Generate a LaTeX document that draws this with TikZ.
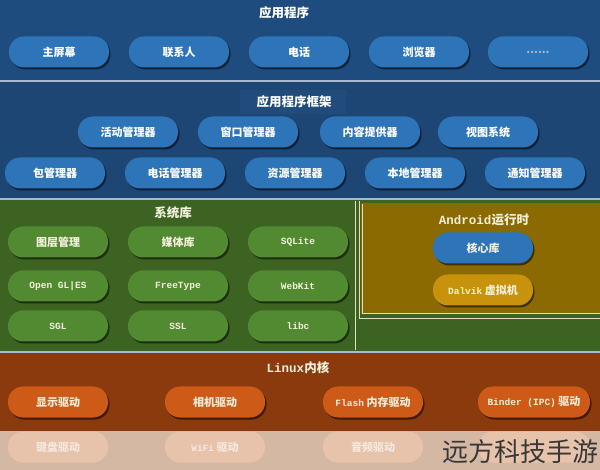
\documentclass[tikz,border=0pt]{standalone}
\usepackage{fontspec}
\setmainfont{Liberation Serif}
\newfontfamily\cjk{Noto Sans CJK SC}
\newfontfamily\mono{Liberation Mono}
\newcommand\lat[1]{{\mono\fontsize{9.5}{11}\selectfont #1}}
\usetikzlibrary{shadows}
\definecolor{appbg}{HTML}{1F4C7E}
\definecolor{fwbg}{HTML}{1D4675}
\definecolor{fwtitle}{HTML}{204B7A}
\definecolor{btnblue}{HTML}{2E74B8}
\definecolor{sep}{HTML}{A9B9D2}
\definecolor{greenbg}{HTML}{3D6323}
\definecolor{greenbtn}{HTML}{528A31}
\definecolor{olive}{HTML}{8C6A02}
\definecolor{dalvik}{HTML}{C9920D}
\definecolor{linebg}{HTML}{E2DEC2}
\definecolor{linuxbg}{HTML}{8A3A0D}
\definecolor{linuxbtn}{HTML}{CE5A17}
\definecolor{fadebg}{HTML}{D5B8A4}
\definecolor{fadebtn}{HTML}{E6C3AA}
\definecolor{fadetxt}{HTML}{F6E8DE}
\definecolor{creamtxt}{HTML}{F2F0DC}
\begin{document}
\begin{tikzpicture}[x=1pt,y=-1pt,
  pill/.style={rounded corners=15pt, minimum width=100pt, minimum height=31pt,
    inner sep=0pt, font=\cjk\bfseries\fontsize{11}{12}\selectfont, text=white,
    drop shadow={shadow xshift=1.5pt, shadow yshift=-2pt, opacity=0.55, fill=black}},
  bluepill/.style={pill, fill=btnblue},
  greenpill/.style={pill, fill=greenbtn, text=creamtxt},
  linuxpill/.style={pill, fill=linuxbtn, text=creamtxt},
  fadepill/.style={rounded corners=15pt, minimum width=100pt, minimum height=31pt,
    inner sep=0pt, font=\cjk\bfseries\fontsize{11}{12}\selectfont, text=fadetxt, fill=fadebtn},
  title/.style={font=\cjk\bfseries\fontsize{12.5}{14}\selectfont, text=white},
  sepline/.style={draw=sep, line width=2pt},
  thinline/.style={draw=linebg, line width=0.8pt}
]
\useasboundingbox (0,0) rectangle (600,470);
% backgrounds
\fill[appbg] (0,0) rectangle (600,81);
\fill[fwbg] (0,81) rectangle (600,199);
\fill[fwtitle] (240,90) rectangle (346,114);
\fill[greenbg] (0,199) rectangle (600,352);
\fill[olive] (361,203) rectangle (600,314);
\fill[linuxbg] (0,352) rectangle (600,431);
\fill[fadebg] (0,431) rectangle (600,470);
% separators
\draw[sepline] (0,81) -- (600,81);
\draw[sepline] (0,199) -- (600,199);
\draw[sepline] (0,352) -- (600,352);
\draw[thinline] (355,201) -- (355,350);
\draw[thinline] (359,201) -- (359,318) -- (600,318);
\draw[thinline] (362,204) -- (362,313) -- (600,313);

% application layer
\node[title] (tapp) at (284,13) {应用程序};
\node[bluepill] (a1) at (59,52) {主屏幕};
\node[bluepill] (a2) at (179,52) {联系人};
\node[bluepill] (a3) at (299,52) {电话};
\node[bluepill] (a4) at (419,52) {浏览器};
\node[bluepill] (a5) at (538,52) {\textcolor{sep}{......}};

% framework
\node[title] (tfw) at (294,102) {应用程序框架};
\node[bluepill] (f1) at (128,132) {活动管理器};
\node[bluepill] (f2) at (248,132) {窗口管理器};
\node[bluepill] (f3) at (370,132) {内容提供器};
\node[bluepill] (f4) at (488,132) {视图系统};
\node[bluepill] (f5) at (55,173) {包管理器};
\node[bluepill] (f6) at (175,173) {电话管理器};
\node[bluepill] (f7) at (295,173) {资源管理器};
\node[bluepill] (f8) at (415,173) {本地管理器};
\node[bluepill] (f9) at (535,173) {通知管理器};

% libraries
\node[title, text=creamtxt] (tlib) at (173,213) {系统库};
\node[greenpill] (l1) at (58,242) {图层管理};
\node[greenpill] (l2) at (178,242) {媒体库};
\node[greenpill] (l3) at (298,242) {\lat{SQLite}};
\node[greenpill] (l4) at (58,286) {\lat{Open GL|ES}};
\node[greenpill] (l5) at (178,286) {\lat{FreeType}};
\node[greenpill] (l6) at (298,286) {\lat{WebKit}};
\node[greenpill] (l7) at (58,326) {\lat{SGL}};
\node[greenpill] (l8) at (178,326) {\lat{SSL}};
\node[greenpill] (l9) at (298,326) {\lat{libc}};

% runtime
\node[title, text=creamtxt] (trt) at (484,220) {{\mono\fontsize{12.5}{14}\selectfont Android}运行时};
\node[bluepill, text=creamtxt] (r1) at (483,248) {核心库};
\node[pill, fill=dalvik, text=creamtxt] (r2) at (483,290) {\lat{Dalvik} 虚拟机};

% linux
\node[title, text=creamtxt] (tlx) at (298,368) {{\mono\fontsize{12.5}{14}\selectfont Linux}内核};
\node[linuxpill] (k1) at (58,402) {显示驱动};
\node[linuxpill] (k2) at (215,402) {相机驱动};
\node[linuxpill] (k3) at (373,402) {\lat{Flash} 内存驱动};
\node[linuxpill, minimum width=112pt] (k4) at (534,402) {\lat{Binder (IPC)} 驱动};
\node[fadepill] (k5) at (58,447) {键盘驱动};
\node[fadepill] (k6) at (215,447) {\lat{WiFi} 驱动};
\node[fadepill] (k7) at (373,447) {音频驱动};
\node[fadepill, minimum width=112pt] (k8) at (534,447) {};

% watermark
\node[font=\cjk\fontsize{26}{28}\selectfont, text=black!78, anchor=east, inner sep=0pt] (wm) at (599,452) {远方科技手游};
\end{tikzpicture}
\end{document}
